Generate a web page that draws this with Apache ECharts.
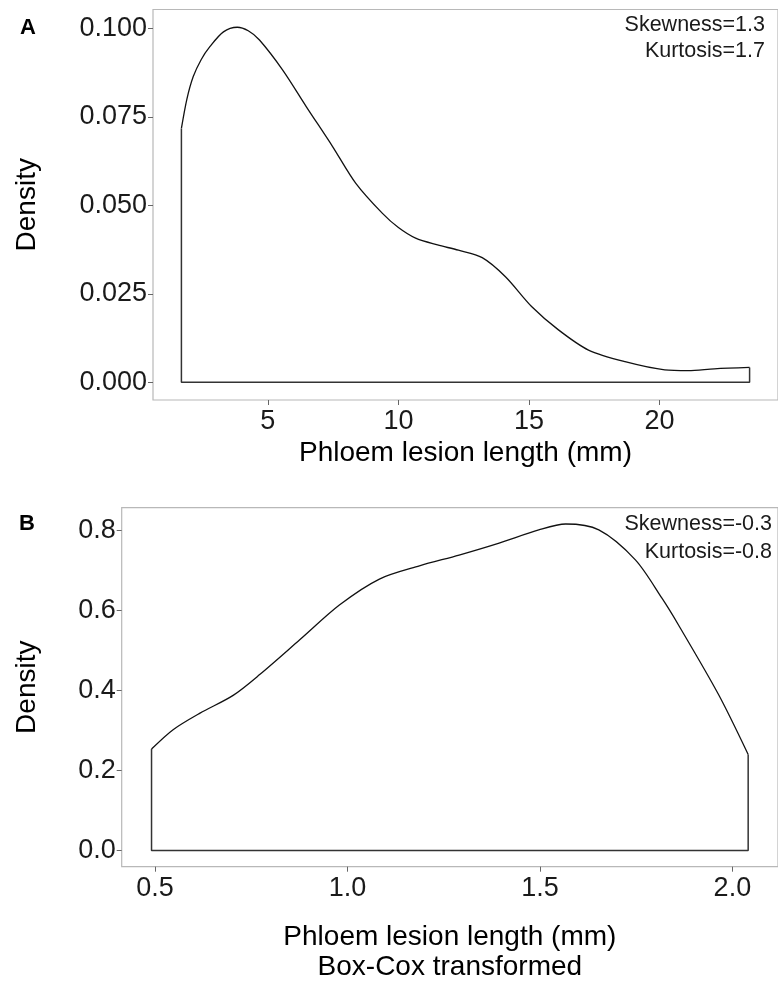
<!DOCTYPE html>
<html>
<head>
<meta charset="utf-8">
<script src="https://cdn.jsdelivr.net/npm/echarts@6/dist/echarts.min.js"></script>
<style>
  html, body { margin: 0; padding: 0; background: #fff; }
  #chart { width: 778px; height: 988px; }
</style>
</head>
<body>
<div id="chart"></div>
<script>
// panel A: raw lesion length (mm) vs density
const lengthA = [1.69, 1.9, 2.14, 2.45, 2.78, 3.3, 3.83, 4.25, 4.68, 5.57, 6.47, 7.48, 8.37, 9.39, 10.0, 10.66, 11.5, 12.3, 13.21, 14.1, 15.1, 16.13, 17.28, 18.68, 20.2, 21.1, 22.1, 23.45];
const densityA = [0.0717, 0.0800, 0.0863, 0.0912, 0.0948, 0.0990, 0.1003, 0.0993, 0.0967, 0.0882, 0.0779, 0.0666, 0.0562, 0.0477, 0.0437, 0.0407, 0.0388, 0.0373, 0.0352, 0.0298, 0.0214, 0.0148, 0.0091, 0.0058, 0.0035, 0.0033, 0.0038, 0.0042];
const xTicksA = [5, 10, 15, 20];
const yTicksA = [0, 0.025, 0.05, 0.075, 0.1];

// panel B: Box-Cox transformed length vs density
const lengthB = [0.491, 0.547, 0.617, 0.703, 0.772, 0.876, 0.979, 1.083, 1.187, 1.29, 1.394, 1.497, 1.567, 1.653, 1.748, 1.817, 1.86, 1.964, 2.041];
const densityB = [0.2535, 0.302, 0.3435, 0.388, 0.44, 0.527, 0.614, 0.679, 0.712, 0.739, 0.769, 0.802, 0.8167, 0.802, 0.727, 0.631, 0.564, 0.39, 0.24];
const xTicksB = [0.5, 1.0, 1.5, 2.0];
const yTicksB = [0, 0.2, 0.4, 0.6, 0.8];

const statsA = ['Skewness=1.3', 'Kurtosis=1.7'];
const statsB = ['Skewness=-0.3', 'Kurtosis=-0.8'];

const FONT = "'Liberation Sans', Arial, sans-serif";

// ggplot style 5% expansion around the data range
const expand = (lo, hi) => {
    const pad = (hi - lo) * 0.05;
    return [lo - pad, hi + pad];
};

const curve = (xs, ys) => xs.map((x, i) => [x, ys[i]]);
const outline = (xs, ys) => {
    const n = xs.length - 1;
    return [[xs[0], ys[0]], [xs[0], 0], [xs[n], 0], [xs[n], ys[n]]];
};

const [xMinA, xMaxA] = expand(Math.min(...lengthA), Math.max(...lengthA));
const [yMinA, yMaxA] = expand(0, Math.max(...densityA));
const [xMinB, xMaxB] = expand(Math.min(...lengthB), Math.max(...lengthB));
const [yMinB, yMaxB] = expand(0, Math.max(...densityB));

const tickStyle = { show: true, length: 5, lineStyle: { color: '#666', width: 1 } };

const xAxisBase = (idx, min, max, ticks, digits, name, gap) => ({
    type: 'value',
    gridIndex: idx,
    min: min,
    max: max,
    splitLine: { show: false },
    axisLine: { show: false, onZero: false },
    axisTick: Object.assign({ customValues: ticks }, tickStyle),
    axisLabel: {
        customValues: ticks,
        formatter: v => v.toFixed(digits),
        color: '#1a1a1a',
        fontSize: 27,
        fontFamily: FONT,
        margin: 8
    },
    name: name,
    nameLocation: 'middle',
    nameGap: gap,
    nameTextStyle: { color: '#000', fontSize: 28, fontFamily: FONT, lineHeight: 30 }
});

const yAxisBase = (idx, min, max, ticks, digits, gap) => ({
    type: 'value',
    gridIndex: idx,
    min: min,
    max: max,
    splitLine: { show: false },
    axisLine: { show: false, onZero: false },
    axisTick: Object.assign({ customValues: ticks }, tickStyle),
    axisLabel: {
        customValues: ticks,
        formatter: v => v.toFixed(digits),
        color: '#1a1a1a',
        fontSize: 27,
        fontFamily: FONT,
        margin: 6
    },
    name: 'Density',
    nameLocation: 'middle',
    nameGap: gap,
    nameTextStyle: { color: '#000', fontSize: 28, fontFamily: FONT }
});

const lineSeries = (idx, data, smooth, color, width) => ({
    type: 'line',
    xAxisIndex: idx,
    yAxisIndex: idx,
    data: data,
    smooth: smooth,
    symbol: 'none',
    lineStyle: { color: color, width: width },
    silent: true
});

const statText = (txt, x, y) => ({
    type: 'text',
    x: x,
    y: y,
    style: {
        text: txt,
        fill: '#1a1a1a',
        font: '21.5px ' + FONT,
        textAlign: 'right',
        textVerticalAlign: 'middle'
    }
});

const panelLabel = (txt, x, y) => ({
    type: 'text',
    x: x,
    y: y,
    style: {
        text: txt,
        fill: '#000',
        font: 'bold 22px ' + FONT,
        textAlign: 'center',
        textVerticalAlign: 'middle'
    }
});

let option = {
    animation: false,
    backgroundColor: '#fff',
    grid: [
        { left: 153, top: 9.5, width: 627, height: 390.5, show: true, borderColor: '#b8b8b8', borderWidth: 1.2 },
        { left: 121.7, top: 507.7, width: 658.3, height: 359, show: true, borderColor: '#b8b8b8', borderWidth: 1.2 }
    ],
    xAxis: [
        xAxisBase(0, xMinA, xMaxA, xTicksA, 0, 'Phloem lesion length (mm)', 38),
        xAxisBase(1, xMinB, xMaxB, xTicksB, 1, 'Phloem lesion length (mm)\nBox-Cox transformed', 56)
    ],
    yAxis: [
        yAxisBase(0, yMinA, yMaxA, yTicksA, 3, 112),
        yAxisBase(1, yMinB, yMaxB, yTicksB, 1, 80)
    ],
    series: [
        lineSeries(0, curve(lengthA, densityA), 0.3, '#111', 1.3),
        lineSeries(0, outline(lengthA, densityA), false, '#333', 1.5),
        lineSeries(1, curve(lengthB, densityB), 0.3, '#111', 1.3),
        lineSeries(1, outline(lengthB, densityB), false, '#333', 1.5)
    ],
    graphic: [
        panelLabel('A', 28, 28),
        panelLabel('B', 27, 524),
        statText(statsA[0], 765, 25),
        statText(statsA[1], 765, 51),
        statText(statsB[0], 772, 524),
        statText(statsB[1], 772, 552)
    ]
};

const chartInit = () => {
    let myChart = echarts.init(document.getElementById('chart'), null, { renderer: 'canvas' });
    option && myChart.setOption(option);
};

chartInit();
</script>
</body>
</html>
